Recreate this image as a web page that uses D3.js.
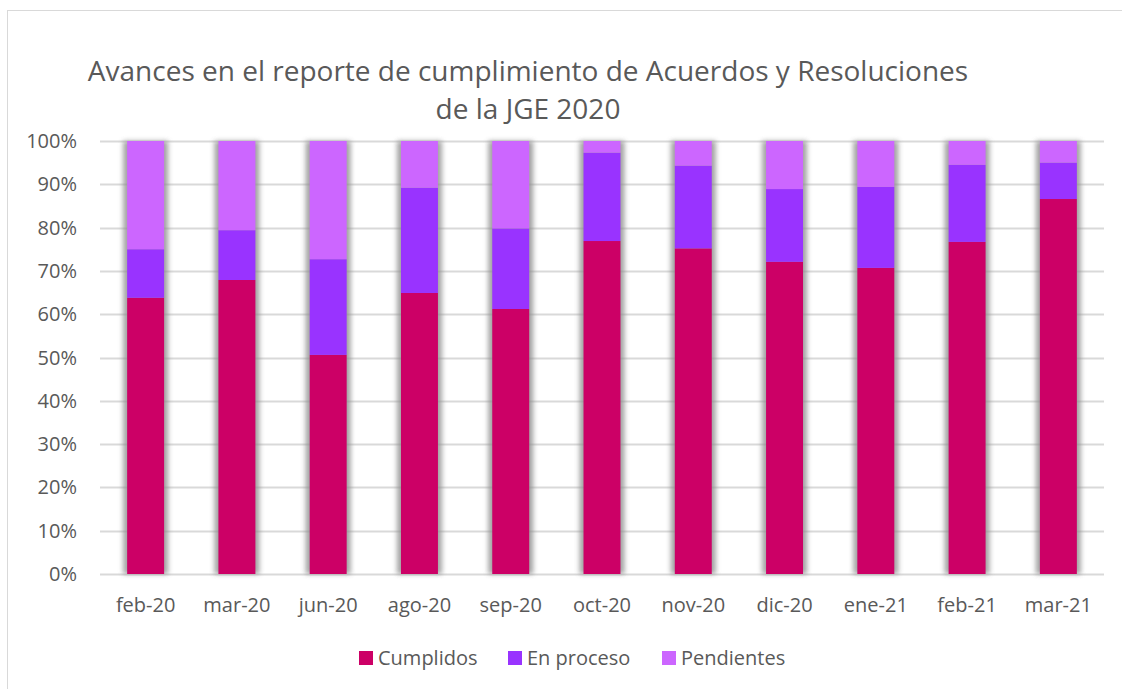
<!DOCTYPE html>
<html>
<head>
<meta charset="utf-8">
<script src="https://cdn.jsdelivr.net/npm/d3@7"></script>
<style>
  body { margin: 0; background: #fff; }
  text { font-family: "Open Sans", Lato, sans-serif; fill: #595959; }
</style>
</head>
<body>
<script>
// datos
const meses = ["feb-20", "mar-20", "jun-20", "ago-20", "sep-20", "oct-20", "nov-20", "dic-20", "ene-21", "feb-21", "mar-21"];
const cumplidos = [0.638, 0.679, 0.506, 0.649, 0.612, 0.769, 0.752, 0.721, 0.707, 0.767, 0.866];
const enProceso = [0.112, 0.115, 0.221, 0.243, 0.186, 0.204, 0.191, 0.168, 0.187, 0.178, 0.084];
const pendientes = [0.250, 0.206, 0.273, 0.108, 0.202, 0.027, 0.057, 0.111, 0.106, 0.055, 0.050];
const series = ["Cumplidos", "En proceso", "Pendientes"];
const colores = ["#cc0066", "#9933ff", "#cc66ff"];
const yTicks = [0, 0.1, 0.2, 0.3, 0.4, 0.5, 0.6, 0.7, 0.8, 0.9, 1];

const W = 1122, H = 689;
const m = { left: 100, right: 18, top: 141, bottom: 115 };

const svg = d3.select("body").append("svg")
  .attr("width", W)
  .attr("height", H);

// marco del grafico
svg.append("rect")
  .attr("x", 7.5).attr("y", 10.5)
  .attr("width", W + 20).attr("height", H + 20)
  .attr("fill", "#fff")
  .attr("stroke", "#d9d9d9");

const defs = svg.append("defs");
const f = defs.append("filter").attr("id", "sombra")
  .attr("x", "-40%").attr("width", "180%").attr("y", "-5%").attr("height", "110%");
f.append("feGaussianBlur").attr("stdDeviation", 2.5);

const x = d3.scaleBand()
  .domain(meses)
  .range([m.left, W - m.right])
  .paddingInner(0.595)
  .paddingOuter(0.2975);

const y = d3.scaleLinear()
  .domain([0, 1])
  .range([H - m.bottom, m.top]);

// rejilla
svg.append("g")
  .selectAll("line")
  .data(yTicks)
  .enter()
  .append("line")
  .attr("x1", m.left)
  .attr("x2", W - m.right)
  .attr("y1", (d) => Math.round(y(d)) + 0.5)
  .attr("y2", (d) => Math.round(y(d)) + 0.5)
  .attr("stroke", "#d9d9d9")
  .attr("stroke-width", 2);

// etiquetas eje y
svg.append("g")
  .selectAll("text")
  .data(yTicks)
  .enter()
  .append("text")
  .attr("x", 77)
  .attr("y", (d) => y(d))
  .attr("dy", "0.35em")
  .attr("text-anchor", "end")
  .attr("font-size", 20)
  .text(d3.format(".0%"));

const tabla = meses.map((mes, i) => ({
  mes,
  "Cumplidos": cumplidos[i],
  "En proceso": enProceso[i],
  "Pendientes": pendientes[i],
}));
const apilado = d3.stack().keys(series)(tabla);

// sombra de las barras
svg.append("g")
  .selectAll("rect")
  .data(meses)
  .enter()
  .append("rect")
  .attr("x", (d) => x(d) - 4)
  .attr("y", y(1))
  .attr("width", x.bandwidth() + 8)
  .attr("height", y(0) - y(1))
  .attr("fill", "#8c8c8c")
  .attr("opacity", 0.8)
  .attr("filter", "url(#sombra)");

svg.append("g")
  .selectAll("g")
  .data(apilado)
  .enter()
  .append("g")
  .attr("fill", (d, i) => colores[i])
  .selectAll("rect")
  .data((d) => d)
  .enter()
  .append("rect")
  .attr("x", (d) => x(d.data.mes))
  .attr("y", (d) => y(Math.min(d[1], 1)))
  .attr("width", x.bandwidth())
  .attr("height", (d) => y(d[0]) - y(Math.min(d[1], 1)));

// etiquetas eje x
svg.append("g")
  .selectAll("text")
  .data(meses)
  .enter()
  .append("text")
  .attr("x", (d) => x(d) + x.bandwidth() / 2)
  .attr("y", 605)
  .attr("dy", "0.35em")
  .attr("text-anchor", "middle")
  .attr("font-size", 20)
  .text((d) => d);

// titulo
const titulo = svg.append("text")
  .attr("text-anchor", "middle")
  .attr("font-size", 28);
titulo.append("tspan").attr("x", 528).attr("y", 81).text("Avances en el reporte de cumplimiento de Acuerdos y Resoluciones");
titulo.append("tspan").attr("x", 528).attr("y", 119).text("de la JGE 2020");

// leyenda
const legX = [359, 508, 662];
const leg = svg.append("g")
  .selectAll("g")
  .data(series)
  .enter()
  .append("g")
  .attr("transform", (d, i) => `translate(${legX[i]},658)`);
leg.append("rect")
  .attr("x", 0).attr("y", -7)
  .attr("width", 14).attr("height", 14)
  .attr("fill", (d, i) => colores[i]);
leg.append("text")
  .attr("x", 19)
  .attr("dy", "0.35em")
  .attr("font-size", 20)
  .text((d) => d);
</script>
</body>
</html>
